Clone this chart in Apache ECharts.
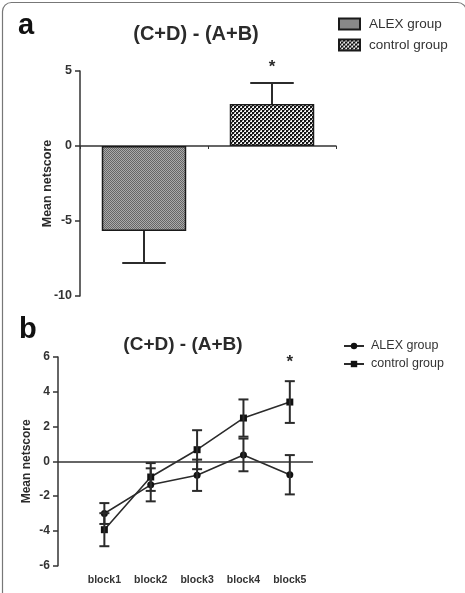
<!DOCTYPE html>
<html>
<head>
<meta charset="utf-8">
<script src="https://cdn.jsdelivr.net/npm/echarts@6/dist/echarts.min.js"></script>
<style>
html,body{margin:0;padding:0;background:#fff;}
#chart{width:465px;height:593px;}
</style>
</head>
<body>
<div id="chart"></div>
<script>
// ---- data ----
const groups = ['ALEX group', 'control group'];
const overallMean = [-5.67, 2.8];
const overallSE = [2.13, 1.4];
const sigA = ['', '*'];

const blocks = ['block1', 'block2', 'block3', 'block4', 'block5'];
const alexMean = [-3.0, -1.35, -0.8, 0.37, -0.77];
const alexSE = [0.6, 0.95, 0.9, 0.94, 1.13];
const controlMean = [-3.93, -0.9, 0.67, 2.49, 3.41];
const controlSE = [0.95, 0.8, 1.12, 1.07, 1.2];
const sigB = ['', '', '', '', '*'];

const yTicksA = [-10, -5, 0, 5];
const yTicksB = [-6, -4, -2, 0, 2, 4, 6];
const titleText = '(C+D) - (A+B)';
const yName = 'Mean netscore';

// ---- patterns ----
function makePattern(w, h, draw) {
  const c = document.createElement('canvas');
  c.width = w; c.height = h;
  draw(c.getContext('2d'));
  return { image: c, repeat: 'repeat' };
}
const alexFill = makePattern(2, 2, ctx => {
  ctx.fillStyle = '#ababab'; ctx.fillRect(0, 0, 2, 2);
  ctx.fillStyle = '#666'; ctx.fillRect(0, 0, 1, 1); ctx.fillRect(1, 1, 1, 1);
});
const controlFill = makePattern(4, 4, ctx => {
  ctx.fillStyle = '#f2f2f2'; ctx.fillRect(0, 0, 4, 4);
  ctx.fillStyle = '#151515'; ctx.fillRect(0, 0, 2, 2); ctx.fillRect(2, 2, 2, 2);
  ctx.fillStyle = '#777'; ctx.fillRect(2, 0, 1, 1); ctx.fillRect(0, 2, 1, 1);
});

const FONT = "'Liberation Sans', Arial, Helvetica, sans-serif";
const INK = '#2b2b2b';

const chart = echarts.init(document.getElementById('chart'), null, { renderer: 'canvas' });

function errA(params, api) {
  const x = api.value(0), m = api.value(1), e = api.value(2);
  const p0 = api.coord([x, m]);
  const p1 = api.coord([x, e]);
  const hw = api.size([1, 0])[0] * 0.17;
  const st = { stroke: INK, lineWidth: 2 };
  return { type: 'group', children: [
    { type: 'line', shape: { x1: p0[0], y1: p0[1], x2: p1[0], y2: p1[1] }, style: st },
    { type: 'line', shape: { x1: p1[0] - hw, y1: p1[1], x2: p1[0] + hw, y2: p1[1] }, style: st }
  ]};
}
function errB(params, api) {
  const x = api.value(0), lo = api.value(1), hi = api.value(2);
  const a = api.coord([x, lo]);
  const b = api.coord([x, hi]);
  const hw = 5;
  const st = { stroke: INK, lineWidth: 2 };
  return { type: 'group', children: [
    { type: 'line', shape: { x1: a[0], y1: a[1], x2: b[0], y2: b[1] }, style: st },
    { type: 'line', shape: { x1: a[0] - hw, y1: a[1], x2: a[0] + hw, y2: a[1] }, style: st },
    { type: 'line', shape: { x1: b[0] - hw, y1: b[1], x2: b[0] + hw, y2: b[1] }, style: st }
  ]};
}
function makeStar(offset) {
  return function (params, api) {
    const txt = api.value(2);
    const p = api.coord([api.value(0), api.value(1)]);
    return { type: 'text', style: { x: p[0], y: p[1] - offset, text: txt, fill: INK,
      font: 'bold 17px ' + FONT, textAlign: 'center', textVerticalAlign: 'middle' } };
  };
}

const axisLineStyle = { color: '#333', width: 1.5 };

const option = {
  animation: false,
  backgroundColor: '#fff',
  textStyle: { fontFamily: FONT },
  graphic: [
    { type: 'rect', shape: { x: 2.5, y: 2.5, width: 464, height: 700, r: 9 },
      style: { fill: 'none', stroke: '#777', lineWidth: 1.2 }, silent: true },
    { type: 'text', style: { x: 18, y: 26, text: 'a', font: 'bold 29px ' + FONT, fill: '#111', textAlign: 'left', textVerticalAlign: 'middle' } },
    { type: 'text', style: { x: 196, y: 34, text: titleText, font: 'bold 20px ' + FONT, fill: INK, textAlign: 'center', textVerticalAlign: 'middle' } },
    { type: 'text', style: { x: 19, y: 330, text: 'b', font: 'bold 29px ' + FONT, fill: '#111', textAlign: 'left', textVerticalAlign: 'middle' } },
    { type: 'text', style: { x: 183, y: 345, text: titleText, font: 'bold 19px ' + FONT, fill: INK, textAlign: 'center', textVerticalAlign: 'middle' } }
  ],
  legend: [
    { data: groups, orient: 'vertical', left: 333, top: 12, itemWidth: 21, itemHeight: 11, itemGap: 7,
      icon: 'rect',
      textStyle: { fontSize: 13.5, color: '#333', fontFamily: FONT, padding: [0, 0, 0, 4] } },
    { data: groups.map(g => g + ' (b)'), orient: 'vertical', left: 338, top: 334.5, itemWidth: 20, itemHeight: 8, itemGap: 5,
      formatter: n => n.replace(' (b)', ''),
      textStyle: { fontSize: 12.5, color: '#333', fontFamily: FONT, padding: [0, 0, 0, 2] } }
  ],
  grid: [
    { left: 80, top: 71, width: 256, height: 225 },
    { left: 58, top: 357, width: 255, height: 208.7 }
  ],
  xAxis: [
    { gridIndex: 0, type: 'category', data: groups, boundaryGap: true,
      axisLine: { onZero: true, lineStyle: axisLineStyle },
      axisTick: { show: true, length: 3, lineStyle: { color: '#333', width: 1 } },
      axisLabel: { show: false } },
    { gridIndex: 1, type: 'value', min: 0, max: 5.5, interval: 1,
      axisLine: { show: false }, axisTick: { show: false }, splitLine: { show: false },
      axisLabel: { margin: 9, fontSize: 10.5, fontWeight: 'bold', color: '#333', fontFamily: FONT,
        formatter: v => (Number.isInteger(v) && v >= 1 && v <= blocks.length) ? blocks[v - 1] : '' } }
  ],
  yAxis: [
    { gridIndex: 0, type: 'value', min: yTicksA[0], max: yTicksA[yTicksA.length - 1], interval: 5,
      name: yName, nameLocation: 'middle', nameGap: 26, nameRotate: 90, nameMoveOverlap: false,
      nameTextStyle: { fontSize: 12.5, fontWeight: 'bold', color: INK, fontFamily: FONT },
      axisLine: { show: true, onZero: false, lineStyle: axisLineStyle },
      axisTick: { show: true, length: 5, lineStyle: { color: '#333', width: 1.5 } },
      splitLine: { show: false },
      axisLabel: { margin: 8, fontSize: 12.5, fontWeight: 'bold', color: '#333', fontFamily: FONT } },
    { gridIndex: 1, type: 'value', min: yTicksB[0], max: yTicksB[yTicksB.length - 1], interval: 2,
      name: yName, nameLocation: 'middle', nameGap: 25, nameRotate: 90, nameMoveOverlap: false,
      nameTextStyle: { fontSize: 12, fontWeight: 'bold', color: INK, fontFamily: FONT },
      axisLine: { show: true, onZero: false, lineStyle: axisLineStyle },
      axisTick: { show: true, length: 5, lineStyle: { color: '#333', width: 1.5 } },
      splitLine: { show: false },
      axisLabel: { margin: 8, fontSize: 12, fontWeight: 'bold', color: '#333', fontFamily: FONT } }
  ],
  series: [
    { name: groups[0], type: 'bar', xAxisIndex: 0, yAxisIndex: 0, barWidth: '66%', barGap: '-100%',
      data: groups.map((g, i) => i === 0 ? overallMean[i] : '-'),
      itemStyle: { color: alexFill, borderColor: '#1a1a1a', borderWidth: 1.5 } },
    { name: groups[1], type: 'bar', xAxisIndex: 0, yAxisIndex: 0, barWidth: '66%', barGap: '-100%',
      data: groups.map((g, i) => i === 1 ? overallMean[i] : '-'),
      itemStyle: { color: controlFill, borderColor: '#1a1a1a', borderWidth: 1.5 } },
    { type: 'custom', xAxisIndex: 0, yAxisIndex: 0, renderItem: errA, z: 5,
      data: overallMean.map((m, i) => [i, m, m < 0 ? m - overallSE[i] : m + overallSE[i]]) },
    { type: 'custom', xAxisIndex: 0, yAxisIndex: 0, renderItem: makeStar(16), z: 6,
      data: overallMean.map((m, i) => [i, m < 0 ? m - overallSE[i] : m + overallSE[i], sigA[i]]) },

    { name: groups[0] + ' (b)', type: 'line', xAxisIndex: 1, yAxisIndex: 1,
      data: alexMean.map((v, i) => [i + 1, v]),
      symbol: 'circle', symbolSize: 7,
      lineStyle: { color: INK, width: 1.6 }, itemStyle: { color: '#111' },
      markLine: { silent: true, symbol: 'none', label: { show: false },
        lineStyle: { color: '#333', width: 1.5, type: 'solid' }, data: [{ yAxis: 0 }] } },
    { name: groups[1] + ' (b)', type: 'line', xAxisIndex: 1, yAxisIndex: 1,
      data: controlMean.map((v, i) => [i + 1, v]),
      symbol: 'rect', symbolSize: 7,
      lineStyle: { color: INK, width: 1.6 }, itemStyle: { color: '#111' } },
    { type: 'custom', xAxisIndex: 1, yAxisIndex: 1, renderItem: errB, z: 5,
      data: alexMean.map((m, i) => [i + 1, m - alexSE[i], m + alexSE[i]]) },
    { type: 'custom', xAxisIndex: 1, yAxisIndex: 1, renderItem: errB, z: 5,
      data: controlMean.map((m, i) => [i + 1, m - controlSE[i], m + controlSE[i]]) },
    { type: 'custom', xAxisIndex: 1, yAxisIndex: 1, renderItem: makeStar(19), z: 6,
      data: blocks.map((b, i) => [i + 1, Math.max(alexMean[i] + alexSE[i], controlMean[i] + controlSE[i]), sigB[i]]) }
  ]
};
chart.setOption(option);
</script>
</body>
</html>
